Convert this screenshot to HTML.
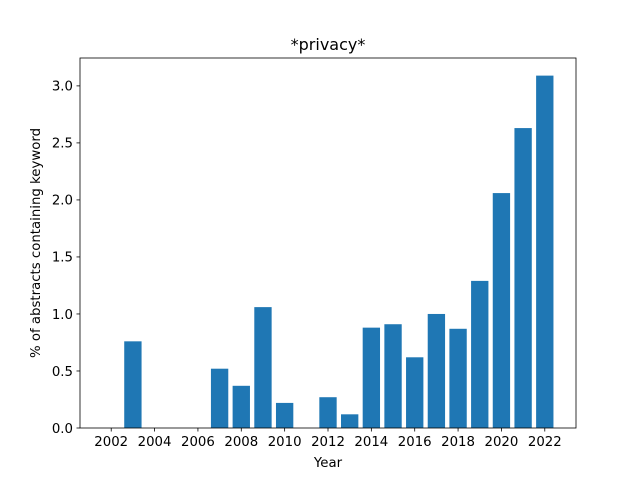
<!DOCTYPE html>
<html><head><meta charset="utf-8"><style>body{margin:0;background:#fff}svg{display:block;font-family:"DejaVu Sans","Liberation Sans",sans-serif}</style></head>
<body>
<svg id="chart" width="640" height="480" viewBox="0 0 640 480"></svg>
<script>
const years=[2002,2003,2004,2005,2006,2007,2008,2009,2010,2011,2012,2013,2014,2015,2016,2017,2018,2019,2020,2021,2022];
const values=[0,0.76,0,0,0,0.52,0.37,1.06,0.22,0,0.27,0.12,0.88,0.91,0.62,1.0,0.87,1.29,2.06,2.63,3.09];
const xTicks=[2002,2004,2006,2008,2010,2012,2014,2016,2018,2020,2022];
const yTicks=[0,0.5,1.0,1.5,2.0,2.5,3.0];
const L=80,R=576,T=58,B=428;
const xMin=2000.56,xMax=2023.44,yMax=3.2445;
const x=v=>L+(v-xMin)/(xMax-xMin)*(R-L);
const y=v=>B-v/yMax*(B-T);
const svg=document.getElementById('chart');
const NS='http://www.w3.org/2000/svg';
function mk(t,a,p){const e=document.createElementNS(NS,t);for(const k in a)e.setAttribute(k,a[k]);(p||svg).appendChild(e);return e;}
years.forEach((yr,i)=>{
  const w=x(yr+0.4)-x(yr-0.4);
  const r=mk('rect',{x:x(yr-0.4),y:y(values[i]),width:w,height:B-y(values[i]),fill:'#1f77b4'});
  
  
});
const frame=mk('rect',{x:L,y:T,width:R-L,height:B-T,fill:'none',stroke:'#000','stroke-width':0.8});


xTicks.forEach(t=>{
  mk('line',{x1:x(t),x2:x(t),y1:B,y2:B+3.5,stroke:'#000','stroke-width':0.8});
  const tx=mk('text',{x:x(t),y:B+18,'text-anchor':'middle','font-size':'13.3'});tx.textContent=t;
  
  
});
yTicks.forEach(t=>{
  mk('line',{x1:L-3.5,x2:L,y1:y(t),y2:y(t),stroke:'#000','stroke-width':0.8});
  const tx=mk('text',{x:L-7,y:y(t)+4.8,'text-anchor':'end','font-size':'13.3'});tx.textContent=t.toFixed(1);
  
  
});
const title=mk('text',{x:(L+R)/2,y:50,'text-anchor':'middle','font-size':'16'});title.textContent='*privacy*';


const xl=mk('text',{x:(L+R)/2,y:467,'text-anchor':'middle','font-size':'13.3'});xl.textContent='Year';


const yl=mk('text',{x:0,y:0,'text-anchor':'middle','font-size':'13.3',transform:'translate(40,243) rotate(-90)'});yl.textContent='% of abstracts containing keyword';


</script>
</body></html>
